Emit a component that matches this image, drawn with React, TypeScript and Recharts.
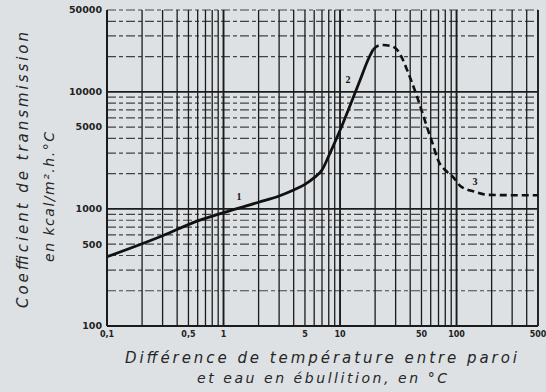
import React from 'react';
import { ComposedChart, Line, XAxis, YAxis, ReferenceLine, ReferenceDot, Customized } from 'recharts';

// temperature difference wall / boiling water (°C)
const deltaT = [0.1, 0.3, 0.6, 1, 2, 3, 4, 5, 6, 7, 8.2, 10.6, 14.9, 17.4, 19.2, 21.2, 23.4, 26.9, 30.8, 34, 37.6, 45.8, 55.8, 62.8, 69.3, 83, 93, 107, 144, 183, 300, 500];
// transmission coefficient (kcal/m².h.°C)
const coef = [390, 590, 790, 930, 1140, 1290, 1450, 1620, 1850, 2150, 3000, 5400, 12700, 18800, 22900, 24700, 25100, 24700, 22900, 19500, 15400, 9100, 5000, 3520, 2620, 2070, 1880, 1580, 1400, 1320, 1310, 1310];
const solidUpTo = 19.2;

const xTicks = [0.1, 0.5, 1, 5, 10, 50, 100, 500];
const yTicks = [100, 500, 1000, 5000, 10000, 50000];

const curveNames = ['1', '2', '3'];
const curveNameT = [1.36, 11.7, 144];
const curveNameCoef = [1270, 12700, 1700];

const decadeLines = (decades: number[], max: number) =>
  decades.flatMap((d) => [1, 2, 3, 4, 5, 6, 7, 8, 9].map((m) => +(m * d).toPrecision(3))).filter((v) => v <= max);

const xGrid = decadeLines([0.1, 1, 10, 100], 500);
const yGrid = decadeLines([100, 1000, 10000], 50000);
const xMajor = [0.1, 1, 10, 100, 500];
const yMajor = [100, 1000, 10000];

const data = deltaT.map((t, i) => ({
  t,
  solid: t <= solidUpTo ? coef[i] : null,
  dashed: t >= solidUpTo ? coef[i] : null,
}));

const ink = '#1b1b1b';
const hand = { fontFamily: 'DejaVu Sans', fontStyle: 'italic', fill: '#262626' } as const;

const AxisTitles = () => (
  <g>
    <text x={28} y={170} transform="rotate(-90 28 170)" textAnchor="middle" fontSize={15} textLength={276} lengthAdjust="spacing" {...hand}>
      Coefficient de transmission
    </text>
    <text x={54} y={197} transform="rotate(-90 54 197)" textAnchor="middle" fontSize={14} textLength={130} lengthAdjust="spacing" {...hand}>
      en kcal/m².h.°C
    </text>
    <text x={321} y={363} textAnchor="middle" fontSize={15} textLength={392} lengthAdjust="spacing" {...hand}>
      Différence de température entre paroi
    </text>
    <text x={322} y={383} textAnchor="middle" fontSize={14} textLength={250} lengthAdjust="spacing" {...hand}>
      et eau en ébullition, en °C
    </text>
  </g>
);

export default function App() {
  return (
    <div style={{ position: 'absolute', left: 0, top: 0, width: 546, height: 392, background: '#dde1e4' }}>
      <ComposedChart width={546} height={392} data={data} margin={{ top: 10, right: 8, bottom: 46, left: 0 }}>
        {xGrid.map((v) => (
          <ReferenceLine key={'x' + v} x={v} stroke={ink} strokeWidth={xMajor.includes(v) ? 1.9 : 1.3} />
        ))}
        {yGrid.map((v) => (
          <ReferenceLine
            key={'y' + v}
            y={v}
            stroke={ink}
            strokeWidth={yMajor.includes(v) ? 1.9 : 1.2}
            strokeDasharray={yMajor.includes(v) ? undefined : '9 3 4 3'}
            strokeOpacity={yMajor.includes(v) ? 1 : 0.8}
          />
        ))}
        <XAxis
          dataKey="t"
          type="number"
          scale="log"
          domain={[0.1, 500]}
          allowDataOverflow
          ticks={xTicks}
          interval={0}
          tickFormatter={(v: number) => String(v).replace('.', ',')}
          tick={{ fontSize: 8, fontWeight: 700, fill: '#222', fontFamily: 'DejaVu Sans' }}
          tickSize={0}
          tickMargin={5}
          axisLine={{ stroke: ink, strokeWidth: 1.8 }}
          height={20}
        />
        <YAxis
          type="number"
          scale="log"
          domain={[100, 50000]}
          allowDataOverflow
          ticks={yTicks}
          interval={0}
          tick={{ fontSize: 9.5, fontWeight: 700, fill: '#222', fontFamily: 'DejaVu Sans' }}
          tickSize={0}
          tickMargin={5}
          axisLine={{ stroke: ink, strokeWidth: 1.8 }}
          width={107}
        />
        <Line dataKey="solid" type="monotone" stroke="#111" strokeWidth={2.8} dot={false} isAnimationActive={false} />
        <Line
          dataKey="dashed"
          type="monotone"
          stroke="#111"
          strokeWidth={2.6}
          strokeDasharray="7 4"
          dot={false}
          isAnimationActive={false}
        />
        {curveNames.map((n, i) => (
          <ReferenceDot
            key={n}
            x={curveNameT[i]}
            y={curveNameCoef[i]}
            r={0}
            label={{ value: n, position: 'center', fontSize: 10, fontWeight: 700, fill: '#111' }}
          />
        ))}
        <Customized component={AxisTitles} />
      </ComposedChart>
    </div>
  );
}
